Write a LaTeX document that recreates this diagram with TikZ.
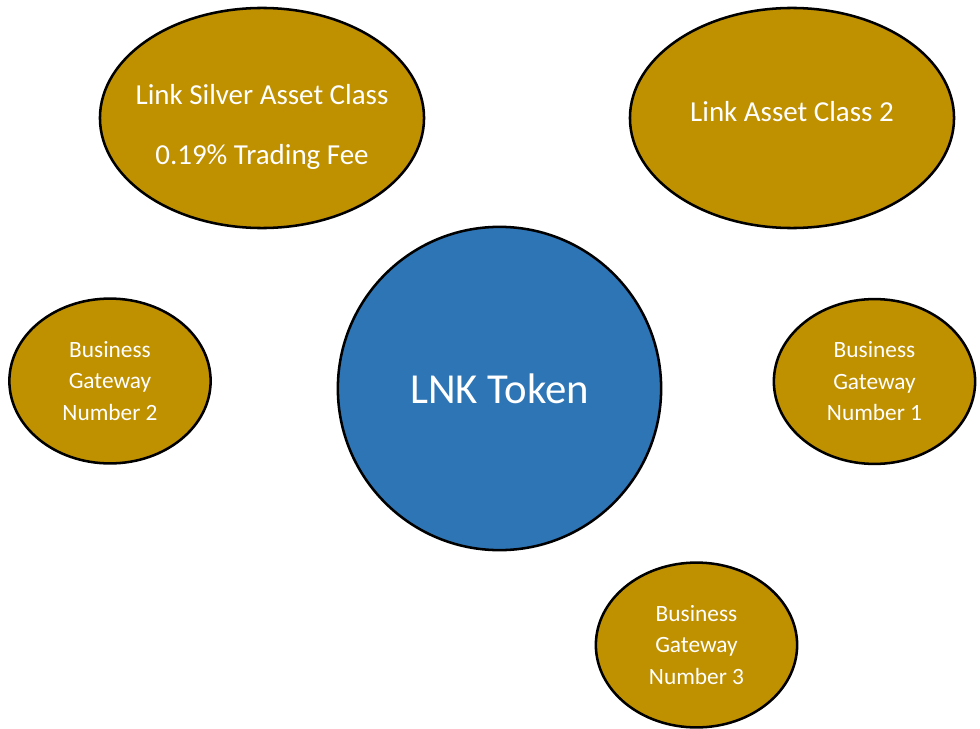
\documentclass[tikz,border=0pt]{standalone}
\usepackage{fontspec}
\setmainfont{Carlito}
\usetikzlibrary{shapes.geometric}
\definecolor{linkgold}{HTML}{BF9000}
\definecolor{linkblue}{HTML}{2E75B6}
\newcommand{\assetcolor}[0]{linkgold}
\newcommand{\tokencolor}[0]{linkblue}
\tikzset{
    asset/.style={ellipse, draw=black, line width=1.8pt, fill=\assetcolor, text=white,
        align=center, inner sep=0pt},
    assetclass/.style={asset, minimum width=8.1cm, minimum height=5.5cm,
        font=\fontsize{20.6pt}{42.7pt}\selectfont},
    gateway/.style={asset, minimum width=5.03cm, minimum height=4.12cm,
        font=\fontsize{16.6pt}{22.4pt}\selectfont},
}

\begin{document}
\begin{tikzpicture}[x=0.025cm, y=-0.025cm]
    \useasboundingbox (0,0) rectangle (980,729);
    \node[circle, draw=black, line width=1.8pt, fill=\tokencolor, text=white, minimum size=8.08cm,
        font=\fontsize{30.4pt}{36pt}\selectfont]
        (token) at (499.5,388.5) {LNK Token};
    % negative xsep keeps the long line from widening the ellipse
    \node[assetclass, text height=69.7pt, inner xsep=-12pt]
        (silver) at (262,118) {Link Silver Asset Class\\0.19\% Trading Fee};
    \node[assetclass, text depth=10pt]
        (class2) at (792,118) {Link Asset Class 2};
    \node[gateway]
        (gateway2) at (110,381) {Business\\Gateway\\Number 2};
    \node[gateway]
        (gateway1) at (874.5,381.5) {Business\\Gateway\\Number 1};
    \node[gateway]
        (gateway3) at (696.5,645) {Business\\Gateway\\Number 3};
\end{tikzpicture}
\end{document}
